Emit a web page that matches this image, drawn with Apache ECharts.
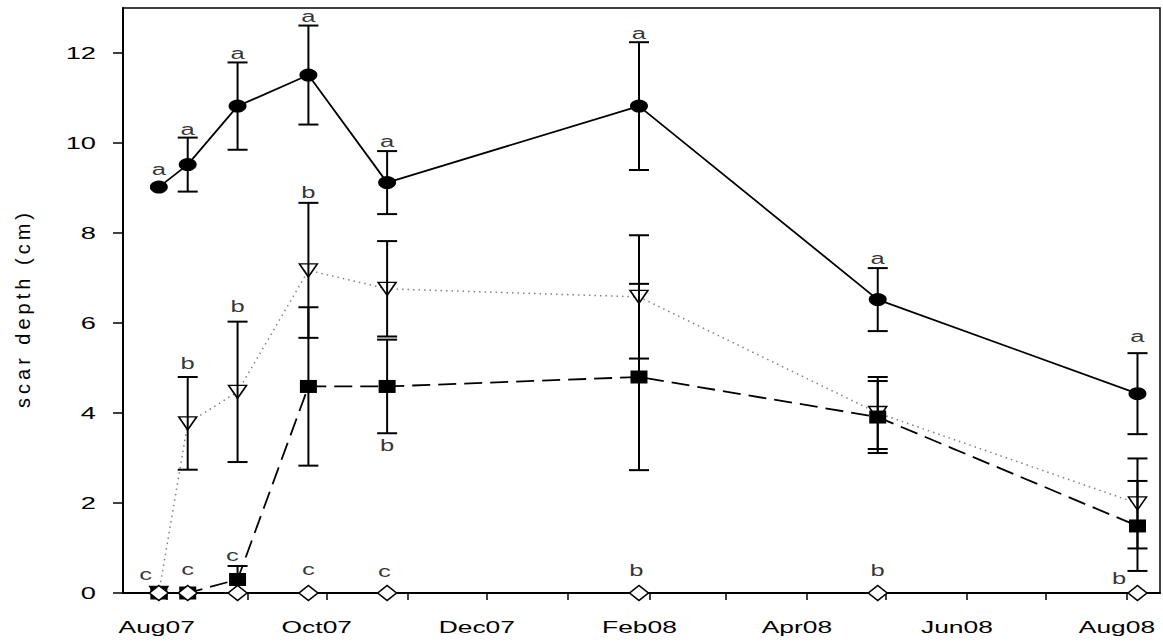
<!DOCTYPE html>
<html><head><meta charset="utf-8">
<script src="https://cdn.jsdelivr.net/npm/echarts@6/dist/echarts.min.js"></script>
<style>
html,body{margin:0;padding:0;background:#fff;}
#c{width:1163px;height:643px;}
#c text[style*="20px"]{letter-spacing:4px;}
</style></head><body><div id="c"></div>
<script>
// ---------- data ----------
const sampleDates   = ['2007-07-29','2007-08-09','2007-08-28','2007-09-24','2007-10-24','2008-01-28','2008-04-28','2008-08-05'];
const circleMean    = [9.02, 9.52, 10.82, 11.51, 9.12, 10.82, 6.52, 4.43];
const circleErr     = [0, 0.6, 0.97, 1.1, 0.7, 1.42, 0.7, 0.9];
const triangleMean  = [0, 3.77, 4.47, 7.17, 6.76, 6.58, 4.0, 1.99];
const triangleErr   = [0, 1.03, 1.56, 1.5, 1.06, 1.37, 0.8, 1.0];
const squareMean    = [0, 0, 0.3, 4.59, 4.59, 4.8, 3.91, 1.49];
const squareErr     = [0, 0, 0.3, 1.76, 1.04, 2.07, 0.8, 1.0];
const diamondMean   = [0, 0, 0, 0, 0, 0, 0, 0];

const letterDates  = ['2007-07-29','2007-08-09','2007-08-28','2007-09-24','2007-10-24','2008-01-28','2008-04-28','2008-08-05',
                      '2007-08-09','2007-08-28','2007-09-24','2007-10-24',
                      '2007-07-24','2007-08-09','2007-08-26','2007-09-24','2007-10-23','2008-01-27','2008-04-28','2008-07-29'];
const letterValues = [9.37, 10.26, 11.95, 12.76, 9.99, 12.38, 7.38, 5.65,
                      5.06, 6.32, 8.85, 3.24,
                      0.37, 0.47, 0.8, 0.47, 0.43, 0.45, 0.45, 0.28];
const letterTexts  = ['a','a','a','a','a','a','a','a',
                      'b','b','b','b',
                      'c','c','c','c','c','b','b','b'];

const xTickDates  = ['2007-08-01','2007-09-01','2007-10-01','2007-11-01','2007-12-01','2008-01-01','2008-02-01',
                     '2008-03-01','2008-04-01','2008-05-01','2008-06-01','2008-07-01','2008-08-01'];
const xLabelDates = ['2007-08-01','2007-10-01','2007-12-01','2008-02-01','2008-04-01','2008-06-01','2008-08-01'];
const xLabelTexts = ['Aug07','Oct07','Dec07','Feb08','Apr08','Jun08','Aug08'];
const xMin = '2007-07-15T08:00:00Z';
const xMax = '2008-08-13T14:00:00Z';
const yTicks = [0, 2, 4, 6, 8, 10, 12];
const yTickLabels = ['0','2','4','6','8','10','12'];
const yMin = 0, yMax = 13;
const yTitle = 'scar depth (cm)';

// ---------- build ----------
const ts = s => Date.parse(s.length === 10 ? s + 'T00:00:00Z' : s);
const xs = sampleDates.map(ts);
const pts = arr => arr.map((v, i) => [xs[i], v]);
const errs = (m, e) => m.map((v, i) => [xs[i], v, e[i]]).filter(d => d[2] > 0);
const xLabelTs = xLabelDates.map(ts);

function renderErr(params, api) {
  const x = api.value(0), m = api.value(1), e = api.value(2);
  const t = api.coord([x, m + e]), b = api.coord([x, m - e]);
  const hw = 10, st = { stroke: '#000', lineWidth: 2 };
  return { type: 'group', children: [
    { type: 'line', shape: { x1: t[0], y1: t[1], x2: b[0], y2: b[1] }, style: st },
    { type: 'line', shape: { x1: t[0] - hw, y1: t[1], x2: t[0] + hw, y2: t[1] }, style: st },
    { type: 'line', shape: { x1: b[0] - hw, y1: b[1], x2: b[0] + hw, y2: b[1] }, style: st }
  ]};
}

const chart = echarts.init(document.getElementById('c'), null, { renderer: 'svg' });
chart.setOption({
  animation: false,
  backgroundColor: '#fff',
  grid: { left: 123, right: 3, top: 8, bottom: 50, show: true, borderColor: '#000', borderWidth: 1.5, outerBoundsMode: 'none', containLabel: false },
  xAxis: {
    type: 'value', min: ts(xMin), max: ts(xMax), scale: true,
    axisLine: { show: true, onZero: false, lineStyle: { color: '#000', width: 2 } },
    axisTick: { show: true, inside: false, length: 7, lineStyle: { color: '#000', width: 1.5 }, customValues: xTickDates.map(ts) },
    axisLabel: { show: true, customValues: xLabelTs, margin: 25, color: '#000', fontFamily: 'Liberation Sans', fontSize: 16.5,
      padding: [0, 20, 0, 0],
      formatter: v => { const i = xLabelTs.indexOf(+v); return i >= 0 ? xLabelTexts[i] : ''; } },
    splitLine: { show: false }
  },
  yAxis: {
    type: 'value', min: yMin, max: yMax,
    name: yTitle, nameLocation: 'middle', nameGap: 90, nameRotate: 90,
    nameTextStyle: { color: '#000', fontFamily: 'Liberation Sans', fontSize: 20, padding: [0, 16, 0, 0] },
    axisLine: { show: true, onZero: false, lineStyle: { color: '#000', width: 2 } },
    axisTick: { show: true, inside: false, length: 10, lineStyle: { color: '#000', width: 1.5 }, customValues: yTicks },
    axisLabel: { show: true, customValues: yTicks, margin: 27, color: '#000', fontFamily: 'Liberation Sans', fontSize: 17,
      formatter: v => { const i = yTicks.indexOf(+v); return i >= 0 ? yTickLabels[i] : ''; } },
    splitLine: { show: false }
  },
  series: [
    { type: 'line', name: 'triangle', data: pts(triangleMean), z: 2,
      lineStyle: { color: '#808080', width: 1.5, type: [1.5, 4] },
      symbol: 'triangle', symbolRotate: 180, symbolSize: [18, 13], showAllSymbol: true,
      itemStyle: { color: '#fff', borderColor: '#000', borderWidth: 1.5 } },
    { type: 'line', name: 'square', data: pts(squareMean), z: 2,
      lineStyle: { color: '#000', width: 1.8, type: [18, 8] },
      symbol: 'rect', symbolSize: [17, 13], showAllSymbol: true,
      itemStyle: { color: '#000', borderColor: '#000', borderWidth: 0 } },
    { type: 'line', name: 'circle', data: pts(circleMean), z: 2,
      lineStyle: { color: '#000', width: 1.8, type: 'solid' },
      symbol: 'circle', symbolSize: [18, 13], showAllSymbol: true,
      itemStyle: { color: '#000', borderColor: '#000', borderWidth: 0 } },
    { type: 'custom', name: 'errTri', renderItem: renderErr, data: errs(triangleMean, triangleErr), z: 3, encode: { x: 0, y: 1 } },
    { type: 'custom', name: 'errSq', renderItem: renderErr, data: errs(squareMean, squareErr), z: 3, encode: { x: 0, y: 1 } },
    { type: 'custom', name: 'errCirc', renderItem: renderErr, data: errs(circleMean, circleErr), z: 3, encode: { x: 0, y: 1 } },
    { type: 'line', name: 'diamond', data: pts(diamondMean), z: 4,
      lineStyle: { color: '#000', width: 1.8 },
      symbol: 'diamond', symbolSize: [19, 15], showAllSymbol: true,
      itemStyle: { color: '#fff', borderColor: '#000', borderWidth: 1.5 } },
    { type: 'scatter', name: 'letters', z: 5,
      data: letterDates.map((d, i) => [ts(d), letterValues[i], letterTexts[i]]),
      symbolSize: 1, itemStyle: { color: 'rgba(0,0,0,0)' },
      label: { show: true, position: 'inside', offset: [0, -2], color: '#000', fontFamily: 'Liberation Sans', fontSize: 16,
        formatter: p => p.data[2] } }
  ]
});

// widen glyphs of tick labels and letters (the reference font is horizontally stretched)
function stretchTexts() {
  document.querySelectorAll('#c svg text').forEach(t => {
    const st = t.getAttribute('style') || '';
    if (st.indexOf('20px') >= 0 || t.getAttribute('data-st')) return;
    const len = t.getComputedTextLength();
    if (len > 0) {
      t.setAttribute('textLength', (len * 1.6).toFixed(2));
      t.setAttribute('lengthAdjust', 'spacingAndGlyphs');
      t.setAttribute('data-st', '1');
    }
  });
}
stretchTexts();
chart.on('finished', stretchTexts);
</script></body></html>
